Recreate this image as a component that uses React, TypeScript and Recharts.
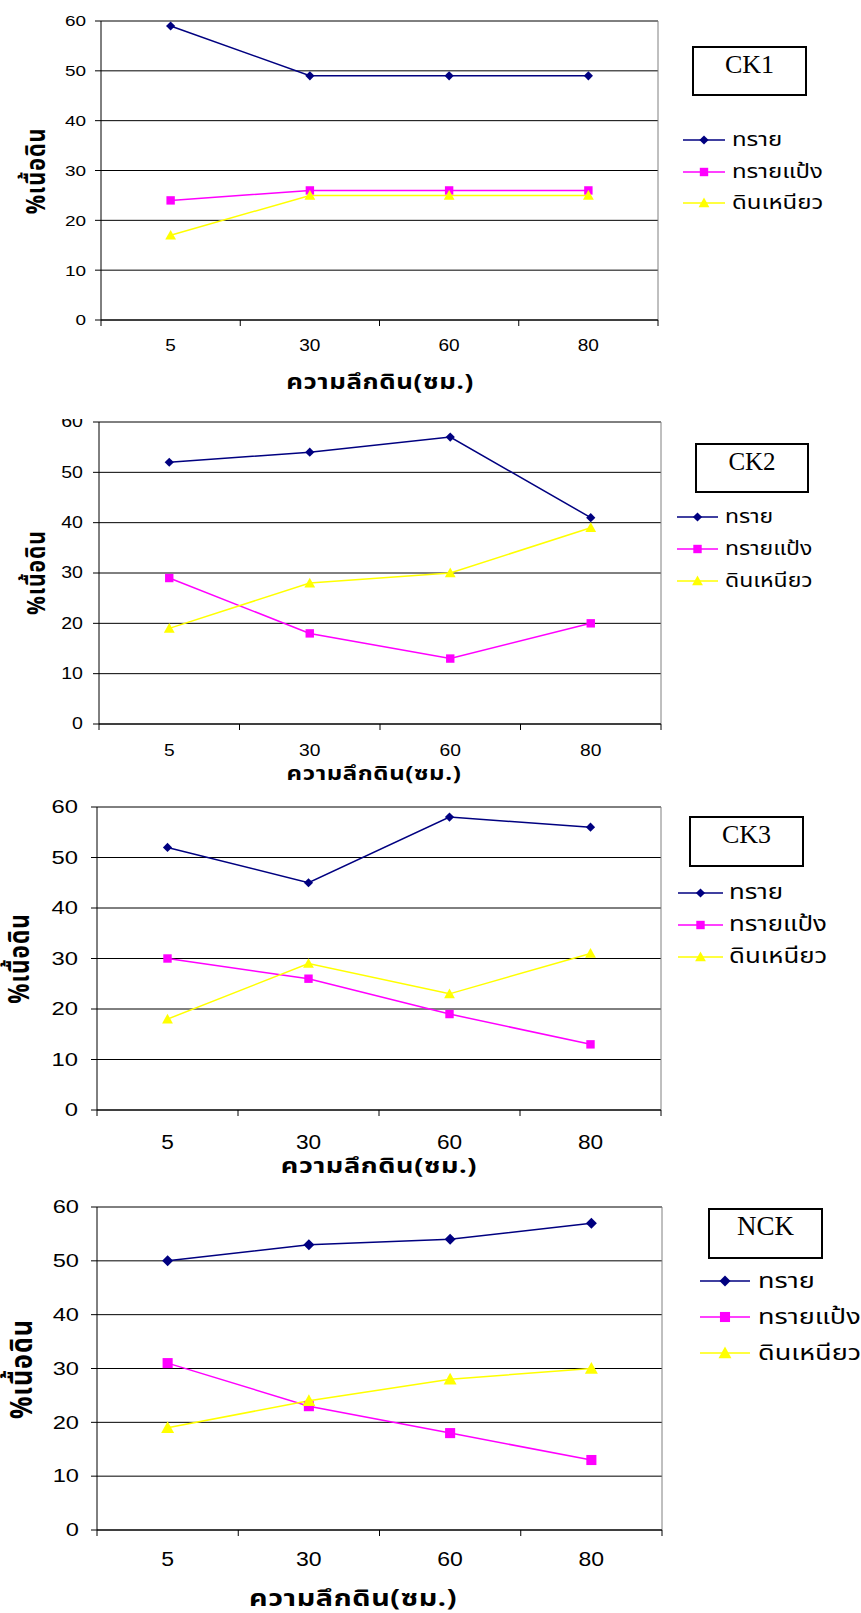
import React from 'react';
import { LineChart, Line, XAxis, YAxis, CartesianGrid, ReferenceLine, Legend } from 'recharts';

// ความลึก (ซม.)
const depths = ['5', '30', '60', '80'];
const seriesNames = ['ทราย', 'ทรายแป้ง', 'ดินเหนียว'];
const yTicks = [0, 10, 20, 30, 40, 50, 60];

const ck1Sand = [59, 49, 49, 49];
const ck1Silt = [24, 26, 26, 26];
const ck1Clay = [17, 25, 25, 25];

const ck2Sand = [52, 54, 57, 41];
const ck2Silt = [29, 18, 13, 20];
const ck2Clay = [19, 28, 30, 39];

const ck3Sand = [52, 45, 58, 56];
const ck3Silt = [30, 26, 19, 13];
const ck3Clay = [18, 29, 23, 31];

const nckSand = [50, 53, 54, 57];
const nckSilt = [31, 23, 18, 13];
const nckClay = [19, 24, 28, 30];

const COLORS = ['#000080', '#FF00FF', '#FFFF00'];
const SHAPES = ['diamond', 'square', 'triangle'];
const THAI = "Tahoma, 'Noto Sans Thai', 'Noto Sans', 'DejaVu Sans', sans-serif";
const NUM = "'Liberation Sans', Arial, sans-serif";
// the original picture is stretched sideways, so text is widened
const SX = 1.23;

const buildRows = (sand: number[], silt: number[], clay: number[]) =>
  depths.map((d, i) => ({ x: i + 0.5, depth: d, sand: sand[i], silt: silt[i], clay: clay[i] }));

// layout of each panel, page coordinates
const panels = [
  {
    name: 'CK1', rows: buildRows(ck1Sand, ck1Silt, ck1Clay),
    top: 0, height: 400, plot: { l: 101, t: 21, r: 658, b: 320 },
    yFont: 15.4, ySx: 1.23, yMargin: 9, xFont: 17, xSx: 1.12, xOff: 25, ms: 1,
    title: { x: 380, y: 383, size: 21 }, yTitle: { x: 37, size: 21.5 },
    box: { x: 693, y: 47, w: 113, h: 48, size: 26 },
    leg: { x1: 683, x2: 725, tx: 732, rows: [140, 172, 203], size: 19.5 },
  },
  {
    name: 'CK2', rows: buildRows(ck2Sand, ck2Silt, ck2Clay),
    top: 419, height: 381, plot: { l: 99, t: 422, r: 661, b: 724 },
    yFont: 16.3, ySx: 1.2, yMargin: 10, xFont: 16.3, xSx: 1.18, xOff: 27, ms: 1,
    title: { x: 374, y: 775, size: 19.5 }, yTitle: { x: 37, size: 21 },
    box: { x: 696, y: 444, w: 112, h: 48, size: 25 },
    leg: { x1: 677, x2: 718, tx: 725, rows: [517, 549, 581], size: 18.7 },
  },
  {
    name: 'CK3', rows: buildRows(ck3Sand, ck3Silt, ck3Clay),
    top: 796, height: 394, plot: { l: 97, t: 807, r: 661, b: 1110 },
    yFont: 18.6, ySx: 1.28, yMargin: 13, xFont: 19.5, xSx: 1.16, xOff: 32, ms: 1,
    title: { x: 379, y: 1167, size: 22 }, yTitle: { x: 21, size: 22.5 },
    box: { x: 690, y: 817, w: 113, h: 49, size: 26 },
    leg: { x1: 678, x2: 723, tx: 729, rows: [893, 925, 957], size: 21 },
  },
  {
    name: 'NCK', rows: buildRows(nckSand, nckSilt, nckClay),
    top: 1190, height: 423, plot: { l: 97, t: 1207, r: 662, b: 1530 },
    yFont: 17.5, ySx: 1.35, yMargin: 12, xFont: 19.5, xSx: 1.18, xOff: 30, ms: 1.2,
    title: { x: 353, y: 1599, size: 23.4 }, yTitle: { x: 22, size: 25 },
    box: { x: 709, y: 1209, w: 113, h: 49, size: 27 },
    leg: { x1: 700, x2: 750, tx: 758, rows: [1281, 1317, 1353], size: 22 },
  },
];

const Marker = ({ cx, cy, shape, color, s }: any) => {
  if (cx == null || cy == null) return null;
  if (shape === 'diamond') {
    const r = 4.6 * s;
    return <polygon points={`${cx},${cy - r} ${cx + r},${cy} ${cx},${cy + r} ${cx - r},${cy}`} fill={color} />;
  }
  if (shape === 'square') {
    const r = 4.2 * s;
    return <rect x={cx - r} y={cy - r} width={2 * r} height={2 * r} fill={color} />;
  }
  const r = 5.4 * s;
  return <polygon points={`${cx},${cy - r} ${cx + r},${cy + r * 0.8} ${cx - r},${cy + r * 0.8}`} fill={color} />;
};

const XTick = ({ x, y, payload, fontSize, sx, off }: any) => {
  const v = payload.value;
  if (Number.isInteger(v)) {
    return <line x1={x} x2={x} y1={y} y2={y + 6} stroke="#000" />;
  }
  return (
    <text transform={`translate(${x} ${y + off}) scale(${sx} 1)`} textAnchor="middle" dominantBaseline="central" fontSize={fontSize} fontFamily={NUM} fill="#000">
      {depths[Math.floor(v)]}
    </text>
  );
};

const YTick = ({ x, y, payload, fontSize, sx }: any) => (
  <text transform={`translate(${x} ${y}) scale(${sx} 1)`} textAnchor="end" dominantBaseline="central" fontSize={fontSize} fontFamily={NUM} fill="#000">
    {payload.value}
  </text>
);

const LegendBody = ({ payload, p }: any) => {
  const top = p.top;
  const b = p.box;
  return (
    <svg width={861} height={p.height} style={{ display: 'block' }}>
      <rect x={b.x} y={b.y - top} width={b.w} height={b.h} fill="#fff" stroke="#000" strokeWidth={2} />
      <text x={b.x + b.w / 2} y={b.y - top + 26} textAnchor="middle" fontSize={b.size} fontFamily="'Liberation Serif', 'Times New Roman', serif" fill="#000">
        {p.name}
      </text>
      {(payload || []).map((e: any) => {
        const i = seriesNames.indexOf(e.value);
        const cy = p.leg.rows[i] - top;
        const cx = (p.leg.x1 + p.leg.x2) / 2;
        return (
          <g key={e.value}>
            <line x1={p.leg.x1} x2={p.leg.x2} y1={cy} y2={cy} stroke={e.color} strokeWidth={1.5} />
            <Marker cx={cx} cy={cy} shape={SHAPES[i]} color={e.color} s={p.ms} />
            <text transform={`translate(${p.leg.tx} ${cy}) scale(${SX} 1)`} dominantBaseline="central" fontSize={p.leg.size} fontFamily={THAI} fill="#000">
              {e.value}
            </text>
          </g>
        );
      })}
    </svg>
  );
};

const Panel = ({ p }: any) => {
  const xAxisH = 40;
  const localB = p.plot.b - p.top;
  const xTicks = [0, 0.5, 1, 1.5, 2, 2.5, 3, 3.5, 4];
  const keys = ['sand', 'silt', 'clay'];
  return (
    <div style={{ position: 'absolute', left: 0, top: p.top, width: 861, height: p.height, overflow: 'hidden' }}>
      <LineChart
        width={861}
        height={p.height}
        data={p.rows}
        margin={{ top: p.plot.t - p.top, right: 861 - p.plot.r, bottom: p.height - localB - xAxisH, left: 0 }}
      >
        <CartesianGrid vertical={false} stroke="#000" />
        <XAxis
          dataKey="x"
          type="number"
          domain={[0, 4]}
          ticks={xTicks}
          interval={0}
          height={xAxisH}
          tickSize={0}
          tickMargin={0}
          tickLine={false}
          axisLine={{ stroke: '#000' }}
          tick={(props: any) => <XTick {...props} fontSize={p.xFont} sx={p.xSx} off={p.xOff} />}
        />
        <YAxis
          type="number"
          domain={[0, 60]}
          ticks={yTicks}
          interval={0}
          width={p.plot.l}
          tickSize={6}
          tickMargin={p.yMargin}
          tickLine={{ stroke: '#000' }}
          axisLine={{ stroke: '#000' }}
          tick={(props: any) => <YTick {...props} fontSize={p.yFont} sx={p.ySx} />}
        />
        <ReferenceLine y={60} stroke="#808080" />
        <ReferenceLine x={4} stroke="#808080" />
        <Legend
          layout="vertical"
          align="center"
          verticalAlign="middle"
          wrapperStyle={{ position: 'absolute', left: 0, top: 0, width: 861, height: p.height, pointerEvents: 'none' }}
          content={(props: any) => <LegendBody payload={props.payload} p={p} />}
        />
        {keys.map((k, i) => (
          <Line
            key={k}
            dataKey={k}
            name={seriesNames[i]}
            stroke={COLORS[i]}
            strokeWidth={1.5}
            isAnimationActive={false}
            activeDot={false}
            dot={(dp: any) => <Marker key={`${k}-${dp.index}`} cx={dp.cx} cy={dp.cy} shape={SHAPES[i]} color={COLORS[i]} s={p.ms} />}
          />
        ))}
      </LineChart>
      <div
        style={{
          position: 'absolute', left: p.title.x - 200, width: 400, top: p.title.y - p.top - p.title.size * 0.6,
          height: p.title.size * 1.2, lineHeight: `${p.title.size * 1.2}px`, textAlign: 'center',
          fontFamily: THAI, fontWeight: 'bold', fontSize: p.title.size, color: '#000', letterSpacing: 0.5,
          transform: `scaleX(${SX})`,
        }}
      >
        ความลึกดิน(ซม.)
      </div>
      <div
        style={{
          position: 'absolute', left: p.yTitle.x - 100, width: 200,
          top: (p.plot.t + p.plot.b) / 2 - p.top - p.yTitle.size * 0.6,
          height: p.yTitle.size * 1.2, lineHeight: `${p.yTitle.size * 1.2}px`, textAlign: 'center',
          transform: `rotate(-90deg) scaleY(${SX})`, fontFamily: THAI, fontWeight: 'bold', fontSize: p.yTitle.size, color: '#000',
          letterSpacing: 1,
        }}
      >
        %เนื้อดิน
      </div>
    </div>
  );
};

export default function App() {
  return (
    <div style={{ position: 'absolute', left: 0, top: 0, width: 861, height: 1613, overflow: 'hidden', background: '#fff' }}>
      {panels.map((p) => (
        <Panel key={p.name} p={p} />
      ))}
    </div>
  );
}
